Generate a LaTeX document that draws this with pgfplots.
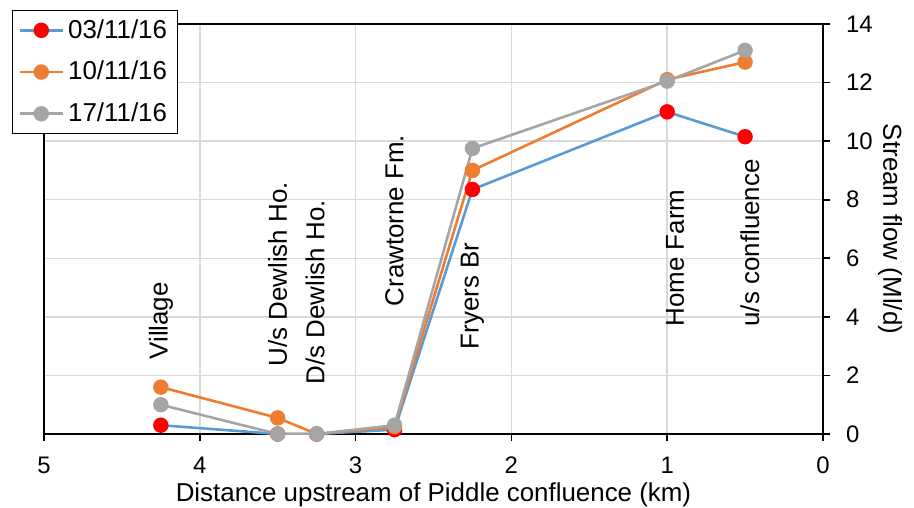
\documentclass[border=0pt]{standalone}
\usepackage{pgfplots}
\pgfplotsset{compat=1.18}
\usepackage{fontspec}
\setmainfont{Liberation Sans}

\definecolor{serA}{HTML}{5B9BD5}
\definecolor{serAm}{HTML}{FF0000}
\definecolor{serB}{HTML}{ED7D31}
\definecolor{serC}{HTML}{A5A5A5}
\definecolor{gridc}{HTML}{D9D9D9}

\begin{document}
\begin{tikzpicture}
\begin{axis}[
  scale only axis, width=389.5bp, height=205bp,
  x dir=reverse, xmin=0, xmax=5, ymin=0, ymax=14,
  xtick={0,1,2,3,4,5}, ytick={0,2,...,14},
  xtick pos=bottom, ytick pos=right, yticklabel pos=right,
  tick align=outside, major tick length=3.5bp,
  tick style={black, line width=0.8bp},
  axis line style={black, line width=1bp},
  grid=major, grid style={gridc, line width=0.75bp},
  ticklabel style={font=\fontsize{12}{14}\selectfont},
  xticklabel style={yshift=-4.5bp},
  yticklabel style={xshift=4.5bp},
  /pgf/number format/assume math mode=true,
  xlabel={Distance upstream of Piddle confluence (km)},
  ylabel={Stream flow (Ml/d)},
  label style={font=\fontsize{13}{15}\selectfont},
  xlabel style={yshift=2.5bp},
  ylabel style={at={(axis description cs:1.086,0.5)}, anchor=center, rotate=180},
  legend style={at={(-0.041,1.034)}, anchor=north west, draw=black,
    fill=white, font=\fontsize{13}{15}\selectfont,
    row sep=6bp, inner xsep=3bp, inner ysep=2.5bp},
  legend cell align=left,
  legend image code/.code={%
    \draw[mark repeat=2, mark phase=2] plot coordinates {(0cm,0cm) (0.38cm,0cm) (0.76cm,0cm)};},
  every axis plot/.append style={line width=1.3bp, mark=*, mark size=3.2bp},
]
\addplot[serA, mark options={draw=serAm, fill=serAm}] coordinates {
  (4.25,0.30) (3.50,0.00) (3.25,0.00) (2.75,0.15) (2.25,8.35) (1.00,11.00) (0.50,10.15)};
\addlegendentry{03/11/16}
\addplot[serB, mark options={draw=serB, fill=serB}] coordinates {
  (4.25,1.60) (3.50,0.55) (3.25,0.00) (2.75,0.25) (2.25,9.00) (1.00,12.10) (0.50,12.70)};
\addlegendentry{10/11/16}
\addplot[serC, mark options={draw=serC, fill=serC}] coordinates {
  (4.25,1.00) (3.50,0.00) (3.25,0.00) (2.75,0.30) (2.25,9.75) (1.00,12.05) (0.50,13.10)};
\addlegendentry{17/11/16}

% site names along the stream
\begin{scope}[every node/.style={rotate=90, anchor=west, inner sep=0pt, font=\fontsize{13}{15}\selectfont}]
\node at (axis cs:4.25,2.53) {Village};
\node at (axis cs:3.50,2.29) {U/s Dewlish Ho.};
\node at (axis cs:3.26,1.68) {D/s Dewlish Ho.};
\node at (axis cs:2.75,4.35) {Crawtorne Fm.};
\node at (axis cs:2.25,2.88) {Fryers Br};
\node at (axis cs:0.95,3.66) {Home Farm};
\node at (axis cs:0.47,3.66) {u/s confluence};
\end{scope}
\end{axis}
\pgfresetboundingbox
\path ([shift={(-22bp,-37bp)}]current axis.south west) rectangle ([shift={(45.5bp,12bp)}]current axis.north east);
\end{tikzpicture}
\end{document}
